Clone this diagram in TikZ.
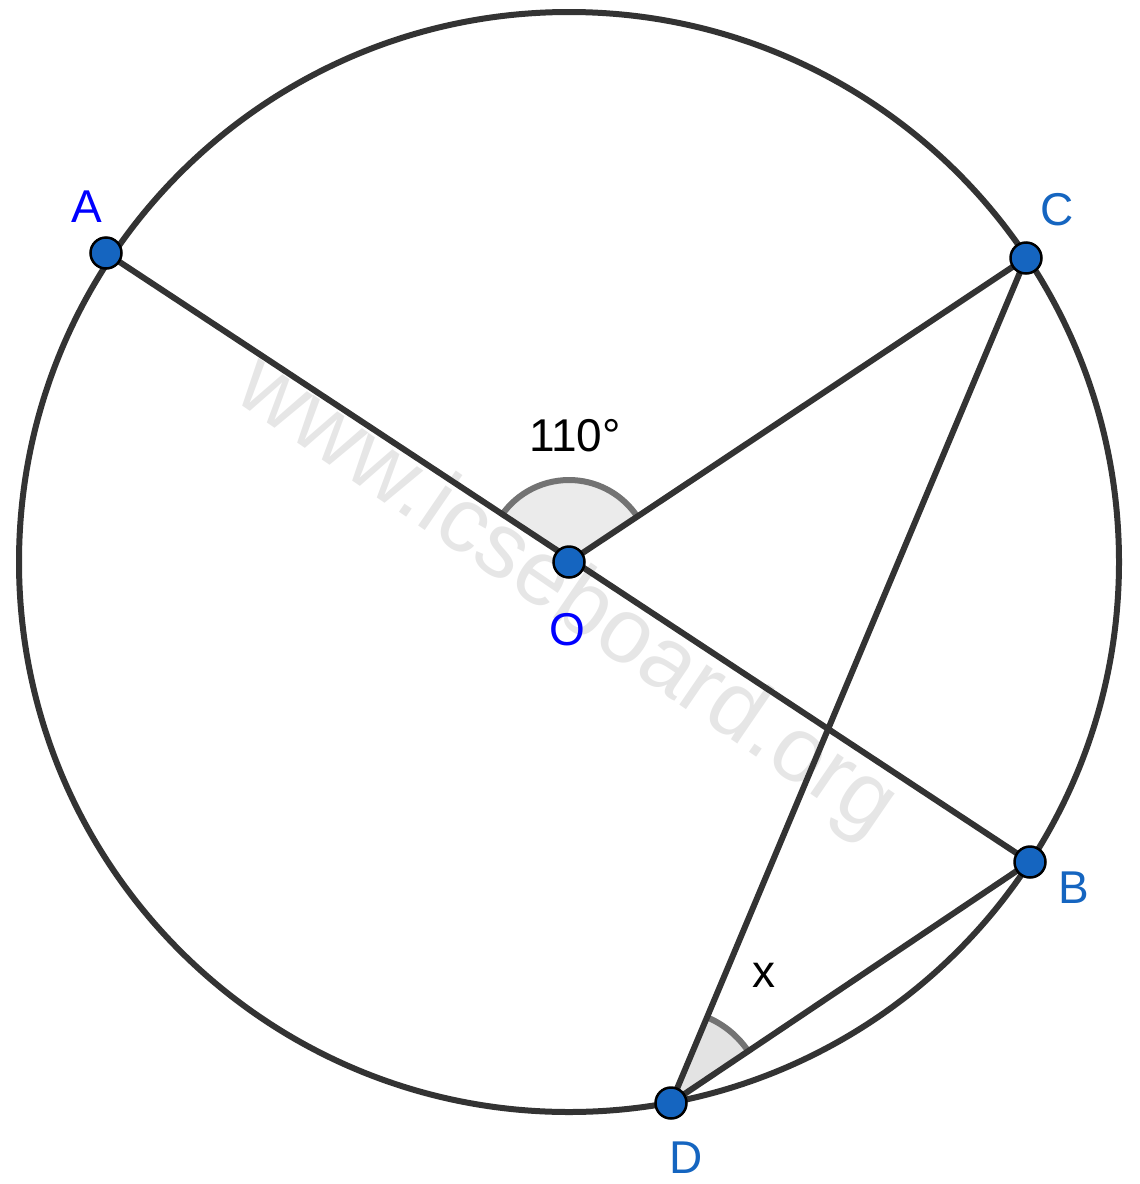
\documentclass[tikz,border=0pt]{standalone}
\usepackage{fontspec}
\setmainfont{Liberation Sans}
\definecolor{linec}{HTML}{333333}
\definecolor{ptblue}{HTML}{1565C0}
\definecolor{pureblue}{HTML}{0000FF}
\definecolor{wmark}{HTML}{E6E6E6}
\tikzset{
  seg/.style={draw=linec, line width=6pt},
  dot/.style={circle, fill=ptblue, draw=black, line width=2.5pt, minimum size=31pt, inner sep=0pt},
  anglefill/.style={fill=black!8},
  anglearc/.style={draw=black!55, line width=6pt},
  lbl/.style={font=\fontsize{46}{46}\selectfont, inner sep=0pt},
}
\begin{document}
\begin{tikzpicture}[x=1pt,y=1pt]
\useasboundingbox (0,0) rectangle (1140,-1184);
\node[text=wmark, rotate=-34.4, font=\fontsize{92}{92}\selectfont, inner sep=0pt] (wm) at (566,-598) {www.icseboard.org};
\coordinate (O) at (569,-562);
\coordinate (A) at (106,-253);
\coordinate (C) at (1026,-258);
\coordinate (B) at (1030,-862);
\coordinate (D) at (671,-1103);
% angle sectors
\fill[anglefill] (O) -- ++(146.3:82) arc[start angle=146.3, end angle=33.6, radius=82] -- cycle;
\draw[anglearc] ([shift={(146.3:82)}]O) arc[start angle=146.3, end angle=33.6, radius=82];
\fill[black!11] (D) -- ++(33.9:93) arc[start angle=33.9, end angle=67.2, radius=93] -- cycle;
\draw[anglearc] ([shift={(33.9:93)}]D) arc[start angle=33.9, end angle=67.2, radius=93];
% circle
\draw[seg] (O) circle[radius=550];
% segments
\draw[seg] (A) -- (B);
\draw[seg] (O) -- (C);
\draw[seg] (C) -- (D);
\draw[seg] (D) -- (B);
% points
\node[dot] (pA) at (A) {};
\node[dot] (pC) at (C) {};
\node[dot] (pB) at (B) {};
\node[dot] (pD) at (D) {};
\node[dot] (pO) at (O) {};
% labels
\node[lbl, text=pureblue] (lA) at (87,-207) {A};
\node[lbl, text=pureblue] (lO) at (567,-630) {O};
\node[lbl, text=ptblue] (lC) at (1057,-210) {C};
\node[lbl, text=ptblue] (lB) at (1074,-888) {B};
\node[lbl, text=ptblue] (lD) at (686,-1158) {D};
\node[lbl] (ang) at (575,-436) {110°};
\node[lbl] (x) at (764,-975) {x};
\end{tikzpicture}
\end{document}
